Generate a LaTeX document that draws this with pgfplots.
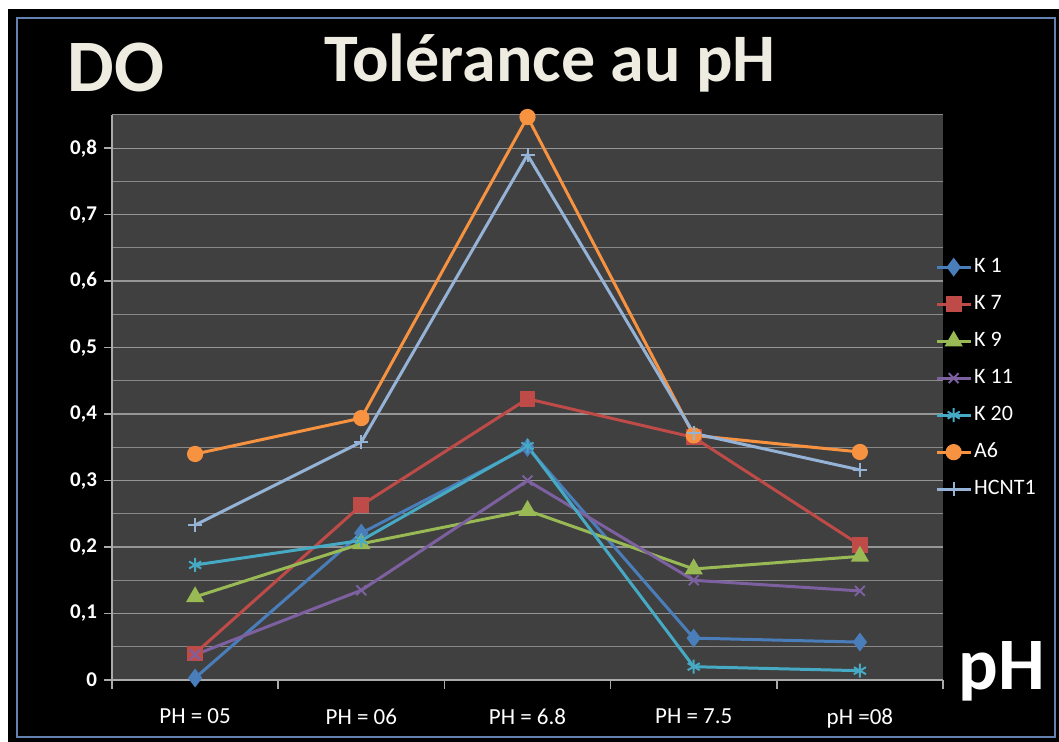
\documentclass[border=0pt]{standalone}
\usepackage{pgfplots}
\pgfplotsset{compat=1.18}
\usepackage{fontspec}
\setmainfont{Carlito}
\definecolor{cK1}{HTML}{4A7EBB}
\definecolor{cK7}{HTML}{BE4B48}
\definecolor{cK9}{HTML}{98B954}
\definecolor{cK11}{HTML}{7D60A0}
\definecolor{cK20}{HTML}{46AAC5}
\definecolor{cA6}{HTML}{F69240}
\definecolor{cHC}{HTML}{95B3D7}
\definecolor{plotbg}{RGB}{64,64,64}
\definecolor{gridc}{RGB}{150,150,150}
\definecolor{axc}{RGB}{170,170,170}
\definecolor{beige}{RGB}{238,236,225}
\definecolor{frameblue}{RGB}{100,130,175}
\begin{document}
\begin{tikzpicture}
\useasboundingbox (0,0) rectangle (529.5pt,371pt);
\fill[white] (0,0) rectangle (529.5pt,371pt);
\fill[black] (4pt,0) rectangle (529.5pt,366.5pt);
\draw[frameblue, line width=1pt] (8.5pt,2.5pt) rectangle (527.5pt,362pt);
\node[anchor=base, text=beige, font=\fontsize{34}{40}\selectfont\bfseries] at (275pt,330pt) {Tolérance au pH};
\node[anchor=base, text=beige, font=\fontsize{37}{42}\selectfont\bfseries] at (58pt,325pt) {DO};
\node[anchor=base, text=white, font=\fontsize{37}{42}\selectfont\bfseries] at (501pt,26pt) {pH};
\begin{axis}[
  at={(56pt,31pt)}, anchor=south west,
  scale only axis, width=415.5pt, height=282.5pt,
  xmin=-0.5, xmax=4.5, ymin=0, ymax=0.85,
  axis x line*=bottom, axis y line*=left,
  axis line style={axc, line width=0.8pt},
  axis background/.style={fill=plotbg},
  xtick={0,1,2,3,4},
  xticklabels={PH = 05, PH = 06, PH = 6.8, PH = 7.5, pH =08},
  major x tick style={draw=none},
  minor xtick={-0.5,0.5,1.5,2.5,3.5,4.5},
  minor x tick style={axc, line width=0.8pt},
  ytick={0,0.1,0.2,0.3,0.4,0.5,0.6,0.7,0.8},
  minor ytick={0.05,0.15,0.25,0.35,0.45,0.55,0.65,0.75,0.85},
  ymajorgrids, yminorgrids,
  major grid style={gridc, line width=0.7pt},
  minor grid style={gridc!85!plotbg, line width=0.5pt},
  major y tick style={axc, line width=0.8pt},
  minor y tick style={draw=none},
  tick align=outside,
  major tick length=4pt, minor tick length=4.5pt,
  /pgf/number format/.cd, use comma, assume math mode=true,
  /pgfplots/.cd,
  yticklabel style={text=white, font=\fontsize{10.5}{12}\selectfont\bfseries},
  xticklabel style={text=white, font=\fontsize{11.5}{13}\selectfont, yshift=-7pt},
  every axis plot/.append style={line width=1.5pt},
  legend style={draw=none, fill=none, text=white, font=\fontsize{11}{13}\selectfont,
    at={(0.99,0.75)}, anchor=north west, inner sep=0pt,
    row sep=8pt, nodes={text height=7pt, text depth=1.5pt, inner sep=1pt}},
  legend cell align=left,
  clip=false,
]
\addplot[cK1, mark=diamond*, mark size=3.5pt, mark options={fill=cK1}] coordinates {(0,0.003) (1,0.221) (2,0.350) (3,0.063) (4,0.057)};
\addlegendentry{K 1}
\addplot[cK7, mark=square*, mark size=3.2pt, mark options={fill=cK7}] coordinates {(0,0.040) (1,0.263) (2,0.423) (3,0.365) (4,0.203)};
\addlegendentry{K 7}
\addplot[cK9, mark=triangle*, mark size=3.8pt, mark options={fill=cK9}] coordinates {(0,0.125) (1,0.205) (2,0.255) (3,0.167) (4,0.186)};
\addlegendentry{K 9}
\addplot[cK11, mark=x, mark size=3.5pt, mark options={line width=1pt}] coordinates {(0,0.038) (1,0.135) (2,0.300) (3,0.150) (4,0.134)};
\addlegendentry{K 11}
\addplot[cK20, mark=asterisk, mark size=3.5pt, mark options={line width=1pt}] coordinates {(0,0.173) (1,0.210) (2,0.352) (3,0.020) (4,0.014)};
\addlegendentry{K 20}
\addplot[cA6, mark=*, mark size=3.3pt, mark options={fill=cA6}] coordinates {(0,0.340) (1,0.394) (2,0.847) (3,0.368) (4,0.343)};
\addlegendentry{A6}
\addplot[cHC, mark=+, mark size=3.5pt, mark options={line width=1pt}] coordinates {(0,0.233) (1,0.358) (2,0.790) (3,0.371) (4,0.316)};
\addlegendentry{HCNT1}
\end{axis}
\end{tikzpicture}
\end{document}
